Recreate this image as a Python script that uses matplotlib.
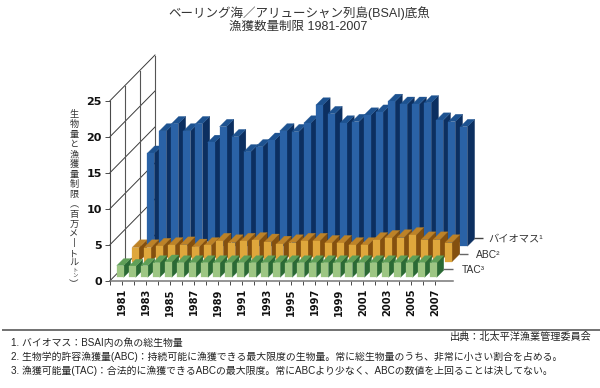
import matplotlib
matplotlib.use("Agg")
import matplotlib.pyplot as plt
from matplotlib.lines import Line2D
from matplotlib.patches import Polygon

plt.rcParams['font.family'] = ['Liberation Sans', 'Noto Sans CJK JP', 'DejaVu Sans']

years = list(range(1981, 2008))
biomass = [17.7, 20.8, 21.8, 20.8, 21.8, 19.2, 21.4, 20.0, 17.9, 18.6, 19.5, 20.8,
           20.7, 21.9, 24.4, 23.2, 21.9, 22.1, 23.0, 23.4, 24.9, 24.5, 24.5, 24.7,
           22.3, 22.1, 21.4]
abc = [4.6, 4.6, 4.8, 4.9, 5.0, 4.7, 4.9, 5.5, 5.3, 5.5, 5.6, 5.4,
       5.1, 5.3, 5.5, 5.5, 5.2, 5.2, 4.9, 4.9, 5.6, 5.9, 6.0, 6.3, 5.7, 5.7, 5.3]
tac = [2.1, 2.0, 2.1, 2.5, 2.6, 2.5, 2.5, 2.5, 2.5, 2.5, 2.5, 2.5,
       2.5, 2.5, 2.5, 2.5, 2.5, 2.5, 2.5, 2.5, 2.5, 2.5, 2.5, 2.5, 2.5, 2.5, 2.5]
y_ticks = [0, 5, 10, 15, 20, 25]
x_labels = [str(y) for y in range(1981, 2008, 2)]

title = ["ベーリング海／アリューシャン列島(BSAI)底魚", "漁獲数量制限 1981-2007"]
series_labels = ["バイオマス¹", "ABC²", "TAC³"]
source = "出典：北太平洋漁業管理委員会"
notes = ["1. バイオマス：BSAI内の魚の総生物量",
         "2. 生物学的許容漁獲量(ABC)：持続可能に漁獲できる最大限度の生物量。常に総生物量のうち、非常に小さい割合を占める。",
         "3. 漁獲可能量(TAC)：合法的に漁獲できるABCの最大限度。常にABCより少なく、ABCの数値を上回ることは決してない。"]

W, H = 600, 388
PX_YEAR, PX_UNIT = 12.04, 7.2     # pixels per year and per unit of value
X81, Y0 = 122.0, 280.7            # pixel of 1981 and of value 0

fig = plt.figure(figsize=(W / 100, H / 100), dpi=100, facecolor="white")
ax = fig.add_axes([0, 0, 1, 1])
ax.set_xlim(1981 - X81 / PX_YEAR, 1981 + (W - X81) / PX_YEAR)
ax.set_ylim(-(H - Y0) / PX_UNIT, Y0 / PX_UNIT)
ax.patch.set_alpha(0)

def dx(p):
    return p / PX_YEAR

def dy(p):
    return p / PX_UNIT

def ftext(px, py, s, **kw):
    fig.text(px / W, 1 - py / H, s, **kw)

def fline(x0, y0, x1, y1, color, lw):
    fig.add_artist(Line2D([x0 / W, x1 / W], [1 - y0 / H, 1 - y1 / H], color=color, lw=lw, solid_capstyle="butt"))

# axes
AXC = "#4a4a4a"
x_left = 1981 - (X81 - 110) / PX_YEAR
for s in ("top", "right"):
    ax.spines[s].set_visible(False)
ax.spines["left"].set_position(("data", x_left))
ax.spines["left"].set_bounds(0, 25)
ax.spines["bottom"].set_position(("data", 0))
ax.spines["bottom"].set_bounds(x_left, 1981 + (453 - X81) / PX_YEAR)
ax.spines["left"].set_color(AXC)
ax.spines["bottom"].set_color("#777777")
ax.spines["left"].set_linewidth(0.8)
ax.spines["bottom"].set_linewidth(1.1)
ax.set_yticks(y_ticks)
ax.set_yticklabels([str(v) for v in y_ticks], fontfamily="DejaVu Sans", fontweight="bold", fontsize=8, color="#111111")
ax.tick_params(axis="y", length=3.5, width=0.7, color=AXC, pad=2.5)
ax.set_xticks(list(range(1981, 2008, 2)))
ax.set_xticklabels(x_labels, rotation=90, fontfamily="DejaVu Sans", fontweight="bold", fontsize=7.1, color="#111111")
ax.set_xticks([x_left] + list(range(1982, 2008, 2)), minor=True)
ax.tick_params(axis="x", which="both", length=2.6, width=0.7, color=AXC)
ax.tick_params(axis="x", which="major", pad=2.8)

# side walls
DEPTH = 45.0
for v in y_ticks:
    ax.plot([x_left, x_left + dx(DEPTH)], [v, v + dy(DEPTH + 0.7)], color="#3a3a3a", lw=0.7, zorder=1)
for d in (15.0, 30.0, 45.0):
    ax.plot([x_left + dx(d)] * 2, [dy(d), 25 + dy(d)], color="#555555", lw=0.8, zorder=1)

# bars, back to front
def bars(values, x_off, base_off, d, face, side, top, z):
    w = dx(7.0)
    base = dy(base_off)
    for yr, v in zip(years, values):
        x0 = yr + dx(x_off)
        x1 = x0 + w
        xd, yd = dx(d), dy(d)
        ax.add_patch(Polygon([(x1, base), (x1 + xd, base + yd), (x1 + xd, v + yd), (x1, v)],
                             fc=side, ec=side, lw=0.2, zorder=z))
        ax.add_patch(Polygon([(x0, v), (x1, v), (x1 + xd, v + yd), (x0 + xd, v + yd)],
                             fc=top, ec=top, lw=0.2, zorder=z))
        ax.add_patch(Polygon([(x0, base), (x1, base), (x1, v), (x0, v)],
                             fc=face, ec=face, lw=0.2, zorder=z))
        z += 0.001

bars(biomass, 25.3, 34.4, 7.3, "#2a62a6", "#0c2f60", "#1d5290", 3)
bars(abc, 10.0, 19.0, 7.8, "#dfa73c", "#84500f", "#bd8227", 4)
bars(tac, -5.3, 3.4, 7.0, "#9dc683", "#2b6a35", "#5f9f57", 5)

# series labels
fline(474, 238.3, 483, 238.3, "#444444", 1.0)
fline(459, 254, 468, 254, "#666666", 1.0)
fline(443, 269.3, 453, 269.3, "#666666", 1.0)
TXT = "#333333"
for px, py, s in zip((488.5, 476, 462), (238.5, 254.5, 270), series_labels):
    ftext(px, py, s, fontsize=7.4, color=TXT, va="center", ha="left")

# title
ftext(299, 13, title[0], fontsize=9, color=TXT, ha="center", va="center")
ftext(298.5, 27, title[1], fontsize=9, color=TXT, ha="center", va="center")

# vertical axis label
main = "生物量と漁獲量制限︵百万メ丨トル"
ftext(74, 110.5, "\n".join(main), fontsize=6.6, color=TXT, ha="center", va="top", linespacing=1.13)
ftext(74.5, 273, "\n".join("トン"), fontsize=3.8, color=TXT, ha="center", va="center", linespacing=0.95)
ftext(74, 285, "︶", fontsize=6.8, color=TXT, ha="center", va="center")

# footer
fline(2, 329.7, 600, 329.7, "#666666", 1.3)
ftext(592, 336.5, source, fontsize=7.3, color="#222222", ha="right", va="center")
for py, s in zip((342.5, 357, 370.7), notes):
    ftext(10.7, py, s, fontsize=7.1, color="#222222", ha="left", va="center")

fig.savefig("out.png", dpi=100, facecolor="white")
